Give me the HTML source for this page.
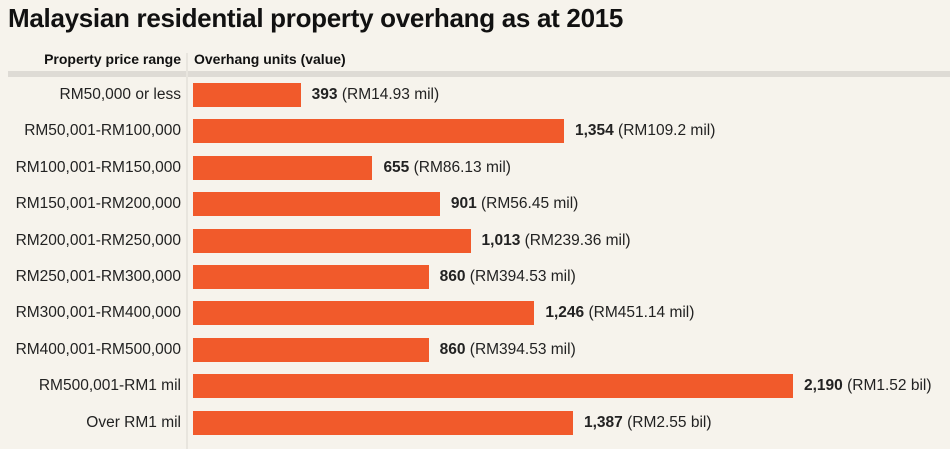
<!DOCTYPE html>
<html><head><meta charset="utf-8"><style>
body{margin:0;width:950px;height:449px;background:#f6f3ec;font-family:"Liberation Sans",sans-serif;overflow:hidden;position:relative}
.t{position:absolute;left:8px;top:3px;font-size:26px;font-weight:bold;color:#111;letter-spacing:-0.3px}
.h{position:absolute;top:51px;font-size:14px;font-weight:bold;color:#111}
.lab{position:absolute;right:769px;font-size:15.5px;color:#222;white-space:nowrap}
.bar{position:absolute;left:193px;height:24px;background:#f15a2b}
.val{position:absolute;font-size:15.5px;color:#222;white-space:nowrap}
</style></head><body>
<div class="t">Malaysian residential property overhang as at 2015</div>
<div class="h" style="right:769px">Property price range</div>
<div class="h" style="left:194px">Overhang units (value)</div>
<div style="position:absolute;left:8px;top:71px;width:942px;height:6px;background:#dedbd5"></div>
<div style="position:absolute;left:186px;top:53px;width:2px;height:396px;background:#e8e5de"></div>
<div id="chart"></div>
<script>
const categories=["RM50,000 or less","RM50,001-RM100,000","RM100,001-RM150,000","RM150,001-RM200,000","RM200,001-RM250,000","RM250,001-RM300,000","RM300,001-RM400,000","RM400,001-RM500,000","RM500,001-RM1 mil","Over RM1 mil"];
const units=[393,1354,655,901,1013,860,1246,860,2190,1387];
const valueLabels=["RM14.93 mil","RM109.2 mil","RM86.13 mil","RM56.45 mil","RM239.36 mil","RM394.53 mil","RM451.14 mil","RM394.53 mil","RM1.52 bil","RM2.55 bil"];
const x=v=>v*600/2190;
const y=i=>83+i*36.4;
const c=document.getElementById('chart');
categories.forEach((cat,i)=>{
  const l=document.createElement('div');l.className='lab';l.style.top=(y(i)+3)+'px';l.textContent=cat;
  
  
  c.appendChild(l);
  const b=document.createElement('div');b.className='bar';b.style.top=y(i)+'px';b.style.width=x(units[i])+'px';
  
  
  c.appendChild(b);
  const v=document.createElement('div');v.className='val';v.style.top=(y(i)+3)+'px';v.style.left=(193+x(units[i])+11)+'px';
  v.innerHTML='<b>'+units[i].toLocaleString('en-US')+'</b> ('+valueLabels[i]+')';
  
  
  c.appendChild(v);
});
</script>
</body></html>
